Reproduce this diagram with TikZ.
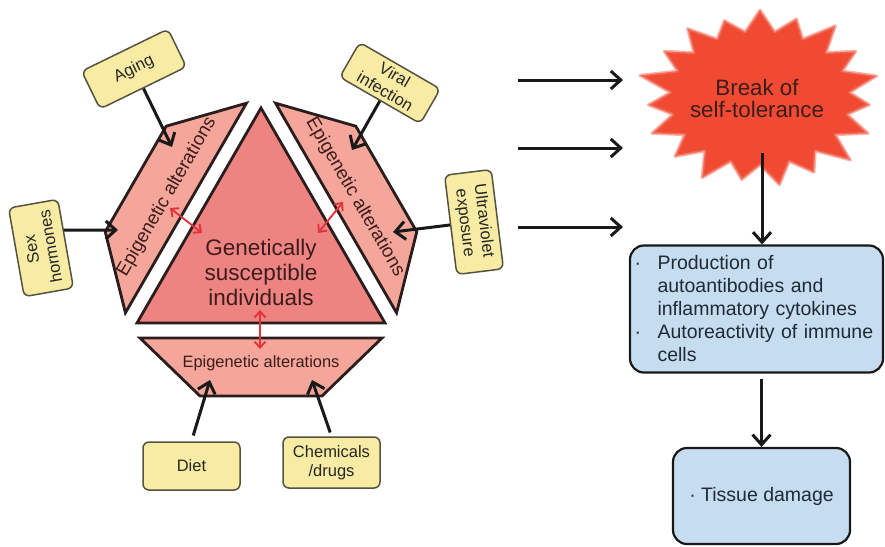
\documentclass[tikz,border=0pt]{standalone}
\usepackage{fontspec}
\setmainfont{Liberation Sans}
\usetikzlibrary{arrows.meta,calc}
\definecolor{trifill}{HTML}{EE8482}
\definecolor{trapfill}{HTML}{F4A69A}
\definecolor{outl}{HTML}{2B1D1D}
\definecolor{yfill}{HTML}{F8EBA3}
\definecolor{ybord}{HTML}{55523F}
\definecolor{bfill}{HTML}{C6DDF0}
\definecolor{btext}{HTML}{1F2A36}
\definecolor{starfill}{HTML}{F04A33}
\definecolor{redl}{HTML}{E5323A}
\definecolor{txtdark}{HTML}{3D1C1C}
\begin{document}
\begin{tikzpicture}[x=1pt,y=-1pt,
  tri/.style={fill=trifill, draw=outl, line width=2.8pt, line join=miter},
  trap/.style={fill=trapfill, draw=outl, line width=2.8pt, line join=miter},
  factor/.style={draw=ybord, fill=yfill, line width=1.5pt, rounded corners=6pt,
    align=center, inner sep=2pt, text=black!85,
    font=\fontsize{16.5pt}{19pt}\selectfont},
  bluebox/.style={draw=black!90, fill=bfill, line width=2.2pt, rounded corners=14pt,
    text=btext, font=\fontsize{19.5pt}{23pt}\selectfont},
  arr/.style={draw=black!90, line width=3pt, -{Straight Barb[length=10pt,width=18pt]}},
  redarr/.style={draw=redl, line width=1.9pt,
    {Straight Barb[length=6pt,width=11pt]}-{Straight Barb[length=6pt,width=11pt]}},
  epitext/.style={text=txtdark, inner sep=0pt}
]
\useasboundingbox (0,0) rectangle (885,546);
\coordinate (c) at (261,251.33);

% central triangle
\draw[tri] (261,108) -- (385,323) -- (137,323) -- cycle;
\node[text=txtdark, align=center, font=\fontsize{22.5pt}{25pt}\selectfont] (gen) at (261,272)
  {Genetically\\susceptible\\individuals};

% three trapezoids around the triangle
\foreach \ang in {0,-120,120} {
  \begin{scope}[rotate around={\ang:(c)}]
    \draw[trap] (140,338) -- (382,338) -- (322,396) -- (200,396) -- cycle;
  \end{scope}
}
\node[epitext, font=\fontsize{16.4pt}{16pt}\selectfont] (epiB) at (261,363) {Epigenetic alterations};
\node[epitext, font=\fontsize{18.8pt}{18pt}\selectfont, rotate=60] (epiL)
  at ($(c)!1!-120:(261,360)$) {Epigenetic alterations};
\node[epitext, font=\fontsize{18.8pt}{18pt}\selectfont, rotate=-60] (epiR)
  at ($(c)!1!120:(261,360)$) {Epigenetic alterations};

% red two-way links between triangle and trapezoids
\coordinate (rL1) at (170,208); \coordinate (rL2) at (202,233);
\coordinate (rR1) at (343,202); \coordinate (rR2) at (318,233);
\coordinate (rB1) at (260,310); \coordinate (rB2) at (260,349);
\draw[redarr] (rL1) -- (rL2);
\draw[redarr] (rR1) -- (rR2);
\draw[redarr] (rB1) -- (rB2);

% environmental factors
\node[factor, minimum width=96pt, minimum height=42pt, rotate=26] (aging) at (134,69) {Aging};
\node[factor, minimum width=93pt, minimum height=40pt, rotate=-30] (viral) at (390,83) {Viral\\infection};
\node[factor, minimum width=90pt, minimum height=50pt, rotate=100] (sexh) at (41,248) {Sex\\hormones};
\node[factor, minimum width=100pt, minimum height=47pt, rotate=-83] (uv) at (474,222) {Ultraviolet\\exposure};
\node[factor, minimum width=97pt, minimum height=48pt] (diet) at (191.5,466) {Diet};
\node[factor, minimum width=97pt, minimum height=51pt] (chem) at (331.5,462.5) {Chemicals\\/drugs};

\coordinate (tAging) at (172,147);
\coordinate (tViral) at (352,150);
\coordinate (tSex) at (118,230);
\coordinate (tUV) at (393,232);
\coordinate (tDiet) at (210,380);
\coordinate (tChem) at (312,380);
\draw[arr] (aging) -- (tAging);
\draw[arr] (viral) -- (tViral);
\draw[arr] ($(sexh.south)!0.3!(sexh.south east)$) -- (tSex);
\draw[arr] (uv) -- (tUV);
\draw[arr, shorten <=6pt] (diet.north) -- (tDiet);
\draw[arr, shorten <=4pt] (chem.north) -- (tChem);

% starburst with a soft rim
\path[fill=starfill, draw=starfill!70!white, line width=3pt, line join=round, draw opacity=.6]
  ({760+118*cos(-90)},{98+88*sin(-90)})
  \foreach \i/\m in {0/1.00,1/0.95,2/1.04,3/0.97,4/1.02,5/0.93,6/1.00,7/1.04,8/0.96,
                     9/1.00,10/0.94,11/1.03,12/0.98,13/1.00,14/0.95,15/1.05,16/0.97,17/1.00,18/0.93}
  { -- ({760+118*\m*cos(\i*18.947-90)},{98+88*\m*sin(\i*18.947-90)})
    -- ({760+90*cos(\i*18.947-80.526)},{98+67*sin(\i*18.947-80.526)}) } -- cycle;
\node[text=txtdark, align=center, font=\fontsize{22.3pt}{22pt}\selectfont] (brk) at (757,99)
  {Break of\\self-tolerance};

% arrows into the starburst
\coordinate (h1s) at (518,80);  \coordinate (h1e) at (623,80);
\coordinate (h2s) at (518,148); \coordinate (h2e) at (623,148);
\coordinate (h3s) at (518,227); \coordinate (h3e) at (623,227);
\draw[arr] (h1s) -- (h1e);
\draw[arr] (h2s) -- (h2e);
\draw[arr] (h3s) -- (h3e);

% outcomes
\node[bluebox, minimum width=253pt, minimum height=127pt, text width=244pt,
      inner xsep=4.5pt, align=left] (prod) at (756.5,309)
  {\makebox[23pt][l]{·}Production of\\
   \hspace*{23pt}autoantibodies and\\
   \hspace*{23pt}inflammatory cytokines\\
   \makebox[23pt][l]{·}Autoreactivity of immune\\
   \hspace*{23pt}cells};
\node[bluebox, minimum width=177pt, minimum height=96pt] (tissue) at (761.5,496) {· Tissue damage};

\coordinate (sOut) at (762,153);
\draw[arr] (sOut) -- (sOut |- prod.north);
\draw[arr, shorten <=5pt] (prod.south -| tissue.north) -- (tissue.north);
\end{tikzpicture}
\end{document}
